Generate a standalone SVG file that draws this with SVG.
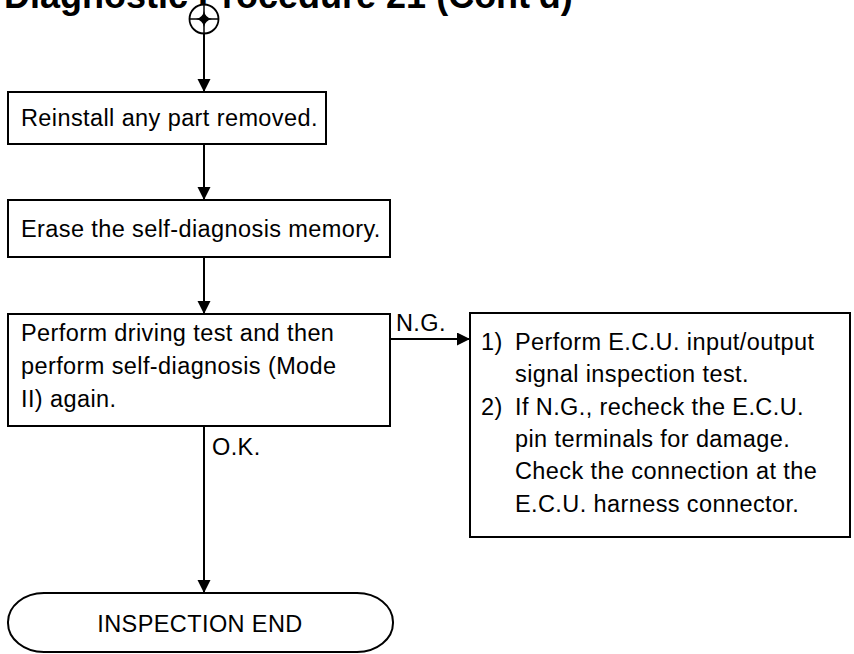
<svg xmlns="http://www.w3.org/2000/svg" width="854" height="654" viewBox="0 0 854 654">
<defs>
<marker id="ah" markerWidth="14" markerHeight="14" refX="13" refY="6.5" orient="auto" markerUnits="userSpaceOnUse">
<path d="M0,0 L13,6.5 L0,13 Z" fill="#000"/>
</marker>
<style>
.box{fill:#fff;stroke:#000;stroke-width:2}
.t{font-family:"Liberation Sans",Arial,sans-serif;font-size:23.5px;letter-spacing:0.4px;fill:#000}
.c{stroke:#000;stroke-width:2;fill:none}
.title{font-family:"Liberation Sans",Arial,sans-serif;font-size:36px;font-weight:bold;fill:#000}
</style>
</defs>
<rect width="854" height="654" fill="#fff"/>
<text class="title" x="4" y="8">Diagnostic Procedure 21 (Cont'd)</text>

<g id="start">
<circle cx="204" cy="19" r="14.5" fill="#fff" stroke="#000" stroke-width="1.8"/>
<line x1="204" y1="4.5" x2="204" y2="33.5" stroke="#000" stroke-width="1.5"/>
<line x1="189.5" y1="19" x2="218.5" y2="19" stroke="#000" stroke-width="1.5"/>
<path d="M204,11 Q205.3,17.7 212,19 Q205.3,20.3 204,27 Q202.7,20.3 196,19 Q202.7,17.7 204,11 Z" fill="#000"/>
</g>

<g id="connectors">
<line class="c" x1="204" y1="34" x2="204" y2="92" marker-end="url(#ah)"/>
<line class="c" x1="204" y1="144" x2="204" y2="200" marker-end="url(#ah)"/>
<line class="c" x1="204" y1="257" x2="204" y2="314" marker-end="url(#ah)"/>
<line class="c" x1="204" y1="426" x2="204" y2="593" marker-end="url(#ah)"/>
<line class="c" x1="390" y1="339" x2="470" y2="339" marker-end="url(#ah)"/>
<text class="t" x="396" y="331">N.G.</text>
<text class="t" x="212" y="455">O.K.</text>
</g>

<g id="reinstall">
<rect class="box" x="8" y="92" width="318" height="52"/>
<text class="t" x="21" y="126">Reinstall any part removed.</text>
</g>

<g id="erase">
<rect class="box" x="8" y="200" width="382" height="57"/>
<text class="t" x="21" y="237">Erase the self-diagnosis memory.</text>
</g>

<g id="drivetest">
<rect class="box" x="8" y="314" width="382" height="112"/>
<text class="t" x="21" y="341">Perform driving test and then</text>
<text class="t" x="21" y="374">perform self-diagnosis (Mode</text>
<text class="t" x="21" y="407">II) again.</text>
</g>

<g id="ecucheck">
<rect class="box" x="470" y="313" width="380" height="224"/>
<text class="t" x="481" y="350">1)</text>
<text class="t" x="515" y="350">Perform E.C.U. input/output</text>
<text class="t" x="515" y="382">signal inspection test.</text>
<text class="t" x="481" y="415">2)</text>
<text class="t" x="515" y="415">If N.G., recheck the E.C.U.</text>
<text class="t" x="515" y="447">pin terminals for damage.</text>
<text class="t" x="515" y="479">Check the connection at the</text>
<text class="t" x="515" y="512">E.C.U. harness connector.</text>
</g>

<g id="end">
<rect class="box" x="8" y="593" width="385" height="59" rx="36" ry="29"/>
<text class="t" x="200" y="632" text-anchor="middle" letter-spacing="1">INSPECTION END</text>
</g>
</svg>
